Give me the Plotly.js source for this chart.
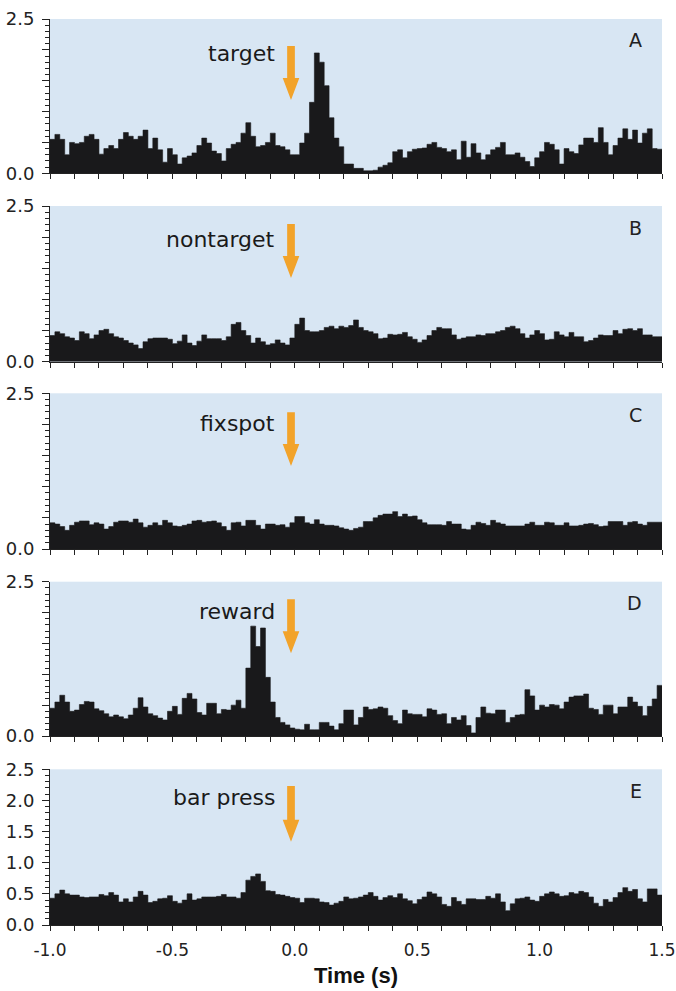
<!DOCTYPE html>
<html>
<head>
<meta charset="utf-8">
<script src="https://cdn.plot.ly/plotly-3.0.1.min.js"></script>
<style>
  html, body { margin: 0; padding: 0; background: #ffffff; }
  #chart { width: 676px; height: 991px; }
</style>
</head>
<body>
<div id="chart"></div>
<script>
// ---------------- DATA ----------------
// Peri-event histograms, 20 ms bins from -1.0 s to 1.5 s (125 bins per panel)
const binStart = -1.0;
const binWidth = 0.02;

const panelLetters = ['A', 'B', 'C', 'D', 'E'];
const eventLabels = ['target', 'nontarget', 'fixspot', 'reward', 'bar press'];

const xTickVals = [-1.0, -0.5, 0.0, 0.5, 1.0, 1.5];
const xTickLabels = ['-1.0', '-0.5', '0.0', '0.5', '1.0', '1.5'];
const yTickVals = [0, 0.5, 1.0, 1.5, 2.0, 2.5];
const yTickLabelsFull = ['0.0', '0.5', '1.0', '1.5', '2.0', '2.5'];
const yTickLabelsShort = ['0.0', '', '', '', '', '2.5'];

const rateA = [
  0.55,0.63,0.55,0.30,0.50,0.48,0.50,0.60,0.63,0.55,
  0.31,0.40,0.45,0.40,0.55,0.66,0.60,0.55,0.60,0.70,
  0.40,0.57,0.38,0.18,0.40,0.30,0.15,0.25,0.28,0.33,
  0.45,0.57,0.49,0.36,0.32,0.20,0.40,0.47,0.50,0.65,
  0.82,0.60,0.43,0.45,0.50,0.65,0.45,0.43,0.38,0.30,
  0.30,0.49,0.65,1.15,1.95,1.80,1.42,
  0.90,0.57,0.43,0.15,0.15,0.08,0.08,0.04,0.04,0.05,
  0.10,0.13,0.17,0.35,0.38,0.25,0.35,0.39,0.40,0.41,
  0.47,0.50,0.42,0.40,0.35,0.38,0.22,0.52,0.26,0.48,
  0.33,0.22,0.30,0.38,0.42,0.50,0.30,0.30,0.33,0.26,
  0.19,0.11,0.25,0.35,0.50,0.47,0.38,0.15,0.40,0.35,
  0.32,0.46,0.57,0.57,0.50,0.74,0.50,0.30,0.45,0.57,
  0.72,0.55,0.70,0.49,0.65,0.72,0.40,0.39
];

const rateB = [
  0.42,0.48,0.45,0.40,0.38,0.34,0.48,0.45,0.37,0.43,
  0.50,0.52,0.45,0.40,0.38,0.34,0.30,0.27,0.21,0.32,
  0.37,0.38,0.38,0.38,0.36,0.29,0.33,0.43,0.30,0.26,
  0.33,0.43,0.37,0.37,0.37,0.34,0.40,0.60,0.63,0.50,
  0.42,0.30,0.38,0.32,0.27,0.29,0.35,0.30,0.27,0.38,
  0.60,0.70,0.50,0.48,0.48,0.50,0.55,0.57,0.53,0.57,
  0.55,
  0.58,0.67,0.55,0.50,0.48,0.45,0.37,0.38,0.44,0.43,
  0.44,0.47,0.40,0.36,0.31,0.35,0.42,0.50,0.55,0.53,
  0.53,0.43,0.36,0.38,0.40,0.40,0.43,0.42,0.45,0.45,
  0.48,0.50,0.55,0.57,0.53,0.45,0.38,0.43,0.50,0.45,
  0.35,0.36,0.48,0.43,0.40,0.47,0.40,0.40,0.32,0.34,
  0.38,0.43,0.42,0.42,0.50,0.45,0.52,0.53,0.50,0.53,
  0.43,0.43,0.40,0.40
];

const rateC = [
  0.42,0.40,0.36,0.30,0.38,0.43,0.45,0.45,0.39,0.42,
  0.40,0.32,0.36,0.43,0.45,0.45,0.43,0.48,0.42,0.35,
  0.38,0.42,0.38,0.46,0.42,0.37,0.36,0.38,0.40,0.45,
  0.46,0.43,0.44,0.45,0.42,0.36,0.30,0.42,0.43,0.37,
  0.46,0.46,0.38,0.32,0.40,0.40,0.38,0.39,0.35,0.42,
  0.52,0.52,0.42,0.40,0.47,0.40,0.38,0.38,0.37,0.34,
  0.32,
  0.30,0.33,0.35,0.44,0.44,0.50,0.54,0.56,0.56,0.60,
  0.52,0.56,0.52,0.53,0.47,0.42,0.39,0.39,0.39,0.38,
  0.44,0.40,0.40,0.32,0.31,0.38,0.43,0.41,0.38,0.46,
  0.42,0.40,0.37,0.37,0.37,0.37,0.40,0.43,0.38,0.38,
  0.43,0.42,0.38,0.38,0.42,0.37,0.37,0.38,0.40,0.41,
  0.39,0.36,0.37,0.44,0.44,0.44,0.38,0.43,0.44,0.40,
  0.38,0.43,0.43,0.43
];

const rateD = [
  0.45,0.55,0.66,0.55,0.40,0.42,0.51,0.56,0.55,0.44,
  0.41,0.36,0.31,0.34,0.31,0.28,0.34,0.45,0.62,0.47,
  0.36,0.33,0.29,0.26,0.40,0.48,0.35,0.61,0.69,0.60,
  0.38,0.34,0.53,0.53,0.36,0.43,0.42,0.50,0.58,0.45,
  1.10,1.78,1.45,1.75,0.95,0.55,0.30,0.22,0.18,0.13,
  0.11,0.10,0.19,0.10,0.10,0.22,0.22,0.16,0.10,0.20,
  0.42,
  0.42,0.18,0.30,0.47,0.43,0.44,0.47,0.45,0.33,0.25,
  0.20,0.42,0.36,0.35,0.35,0.31,0.44,0.42,0.35,0.36,
  0.20,0.30,0.26,0.33,0.17,0.05,0.30,0.47,0.37,0.36,
  0.42,0.42,0.22,0.30,0.34,0.35,0.75,0.65,0.42,0.50,
  0.47,0.51,0.50,0.44,0.55,0.63,0.65,0.65,0.68,0.45,
  0.43,0.35,0.50,0.50,0.36,0.47,0.47,0.63,0.55,0.48,
  0.33,0.48,0.60,0.82
];

const rateE = [
  0.43,0.50,0.56,0.50,0.48,0.48,0.45,0.44,0.45,0.45,
  0.49,0.47,0.52,0.48,0.37,0.42,0.37,0.45,0.54,0.48,
  0.36,0.38,0.42,0.43,0.47,0.38,0.35,0.40,0.50,0.40,
  0.42,0.45,0.45,0.45,0.46,0.49,0.45,0.45,0.43,0.52,
  0.72,0.78,0.82,0.70,0.55,0.54,0.49,0.48,0.46,0.44,
  0.43,0.36,0.43,0.43,0.42,0.37,0.36,0.32,0.35,0.38,
  0.45,0.42,0.43,0.45,0.48,0.52,0.46,0.40,0.44,0.47,
  0.44,0.50,0.42,0.39,0.34,0.41,0.45,0.53,0.50,0.45,
  0.33,0.30,0.44,0.38,0.33,0.42,0.42,0.41,0.41,0.46,
  0.43,0.50,0.37,0.23,0.34,0.42,0.43,0.45,0.40,0.38,
  0.46,0.50,0.53,0.50,0.46,0.47,0.52,0.50,0.54,0.52,
  0.45,0.35,0.30,0.41,0.37,0.44,0.52,0.60,0.54,0.57,
  0.42,0.37,0.58,0.58,0.48
];

const panelRates = [rateA, rateB, rateC, rateD, rateE];

// ---------------- LAYOUT / STYLE ----------------
const W = 676, H = 991;
const M = { l: 50, r: 14, t: 19, b: 66 };
const plotH = H - M.t - M.b;
const panelTopPx = [19, 206, 393.3, 581.7, 769.3];
const panelBotPx = [173.3, 361.7, 549, 736, 925];
const toPaper = px => (H - M.b - px) / plotH;

// event label center offset (px below panel top) and arrow geometry (px below panel top)
const labelCenterPx = [35, 33, 30.7, 29.9, 28];
const arrowTopPx = [27, 18, 19, 17.6, 16.7];
const arrowTipPx = [81, 72, 72.7, 71.6, 72.4];
const arrowHeadLenPx = 22;
const pxPerSec = (W - M.l - M.r) / 2.5;
const arrowX = -0.0155;
const shaftHalf = 3.85 / pxPerSec;
const headHalf = 8.3 / pxPerSec;

const barColor = '#19191b';
const bgColor = '#d8e6f3';
const arrowColor = '#f2a32a';
const yTickFont = { family: 'DejaVu Sans, sans-serif', size: 18, color: '#222222' };
const xTickFont = { family: 'DejaVu Sans, sans-serif', size: 17, color: '#222222' };

const traces = [];
const layout = {
  width: W, height: H,
  margin: M,
  paper_bgcolor: '#ffffff',
  plot_bgcolor: bgColor,
  showlegend: false,
  annotations: [],
  shapes: []
};

panelRates.forEach((vals, k) => {
  const n = k + 1;
  const xs = [], ys = [];
  vals.forEach((v, i) => { xs.push(binStart + i * binWidth); ys.push(v); });
  xs.push(binStart + vals.length * binWidth);
  ys.push(vals[vals.length - 1]);
  traces.push({
    type: 'scatter', mode: 'lines',
    x: xs, y: ys,
    xaxis: 'x' + (n === 1 ? '' : n), yaxis: 'y' + (n === 1 ? '' : n),
    line: { shape: 'hv', width: 0.6, color: barColor },
    fill: 'tozeroy', fillcolor: barColor,
    hoverinfo: 'skip'
  });

  const isLast = n === 5;
  const xName = 'xaxis' + (n === 1 ? '' : n);
  const yName = 'yaxis' + (n === 1 ? '' : n);
  const dom = [toPaper(panelBotPx[k]), Math.min(1, toPaper(panelTopPx[k]))];

  layout[xName] = {
    domain: [0, 1],
    anchor: 'y' + (n === 1 ? '' : n),
    range: [-1.0, 1.5],
    fixedrange: true,
    showgrid: false, zeroline: false,
    showline: true, linecolor: '#222222', linewidth: 1,
    ticks: 'outside', ticklen: 5, tickwidth: 1, tickcolor: '#222222',
    tickmode: 'array', tickvals: xTickVals, ticktext: xTickLabels,
    showticklabels: isLast,
    tickfont: xTickFont,
    ticklabelstandoff: 5,
    minor: { dtick: 0.1, tick0: -1.0, ticks: 'outside', ticklen: 5, tickwidth: 1, tickcolor: '#222222', showgrid: false }
  };
  if (isLast) {
    layout[xName].title = {
      text: '<b>Time (s)</b>',
      font: { family: 'Liberation Sans, Arial, sans-serif', size: 22, color: '#111111' },
      standoff: 8
    };
  }
  layout[yName] = {
    domain: dom,
    anchor: 'x' + (n === 1 ? '' : n),
    range: [0, 2.5],
    fixedrange: true,
    showgrid: false, zeroline: false,
    showline: true, linecolor: '#222222', linewidth: 1,
    ticks: 'outside', ticklen: 7, tickwidth: 1, tickcolor: '#222222',
    tickmode: 'array', tickvals: yTickVals,
    ticktext: isLast ? yTickLabelsFull : yTickLabelsShort,
    tickfont: yTickFont,
    ticklabelstandoff: 4,
    minor: { dtick: 0.1, tick0: 0, ticks: 'outside', ticklen: 4, tickwidth: 1, tickcolor: '#222222', showgrid: false }
  };

  const hPx = panelBotPx[k] - panelTopPx[k];
  const yref = 'y' + (n === 1 ? '' : n) + ' domain';
  const xref = 'x' + (n === 1 ? '' : n);

  // panel letter
  layout.annotations.push({
    xref: xref + ' domain', yref: yref,
    x: (644 - M.l) / (W - M.l - M.r), y: 1 - 21.5 / hPx,
    xanchor: 'right', yanchor: 'middle',
    text: panelLetters[k], showarrow: false,
    font: { family: 'DejaVu Sans, sans-serif', size: 19, color: '#222222' }
  });
  // event label
  layout.annotations.push({
    xref: xref, yref: yref,
    x: -0.071, y: 1 - labelCenterPx[k] / hPx,
    xanchor: 'right', yanchor: 'middle',
    text: eventLabels[k], showarrow: false,
    font: { family: 'DejaVu Sans, sans-serif', size: 22, color: '#1a1a1a' }
  });
  // orange arrow marking event time
  const yT = 1 - arrowTopPx[k] / hPx;
  const yTip = 1 - arrowTipPx[k] / hPx;
  const yHead = 1 - (arrowTipPx[k] - arrowHeadLenPx) / hPx;
  const p = (x, y) => x.toFixed(5) + ',' + y.toFixed(5);
  layout.shapes.push({
    type: 'path', xref: xref, yref: yref,
    path: 'M' + p(arrowX - shaftHalf, yT) + ' L' + p(arrowX + shaftHalf, yT) +
          ' L' + p(arrowX + shaftHalf, yHead) + ' L' + p(arrowX + headHalf, yHead) +
          ' L' + p(arrowX, yTip) + ' L' + p(arrowX - headHalf, yHead) +
          ' L' + p(arrowX - shaftHalf, yHead) + ' Z',
    fillcolor: arrowColor, line: { width: 0 }, layer: 'above'
  });
});

Plotly.newPlot('chart', traces, layout, { staticPlot: true, displayModeBar: false });
</script>
</body>
</html>
